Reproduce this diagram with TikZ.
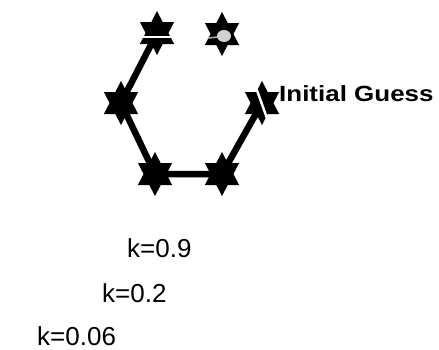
\documentclass[tikz,border=0pt]{standalone}
\usepackage{fontspec}
\setmainfont{Liberation Sans}
\begin{document}
\begin{tikzpicture}[x=1pt,y=-1pt,
  hexstar/.pic={\fill[black, xscale=0.9] (90:22) \foreach \a in {1,...,11} { -- ({90+30*\a}:{ifthenelse(mod(\a,2)==1,12.7,22)}) } -- cycle;},
  link/.style={line width=6.5pt, black},
  klabel/.style={anchor=base west, inner sep=0pt, font=\fontsize{26}{30}\selectfont},
  guess/.style={anchor=base west, inner sep=0pt, font=\bfseries\fontsize{22}{26}\selectfont},
  gap/.style={white, line width=2.5pt}]
\useasboundingbox (0,0) rectangle (439,349);
\coordinate (tl) at (157,33);
\coordinate (tr) at (222,34);
\coordinate (l) at (121,103);
\coordinate (r) at (262,103);
\coordinate (bl) at (155,174);
\coordinate (br) at (222,174);
\draw[link] (r) -- (br) -- (bl) -- (l) -- (tl);
\foreach \s in {tl,tr,l,r,bl,br} { \path (\s) pic {hexstar}; }
\draw[gap] ([xshift=-18pt,yshift=-4pt]tl) -- ([xshift=18pt,yshift=-4pt]tl);
\draw[gap] (254,82) -- (268,121);
\fill[gray!35] (224,36) ellipse (7pt and 6pt);
\draw[gray!60, line width=1.5pt] (208,38) -- (218,37);
\node[guess] (ig) at (279,101) {\scalebox{1.18}[1]{Initial Guess}};
\node[klabel] (k1) at (127,257) {k=0.9};
\node[klabel] (k2) at (102,302) {k=0.2};
\node[klabel] (k3) at (37,345) {k=0.06};
\end{tikzpicture}
\end{document}
